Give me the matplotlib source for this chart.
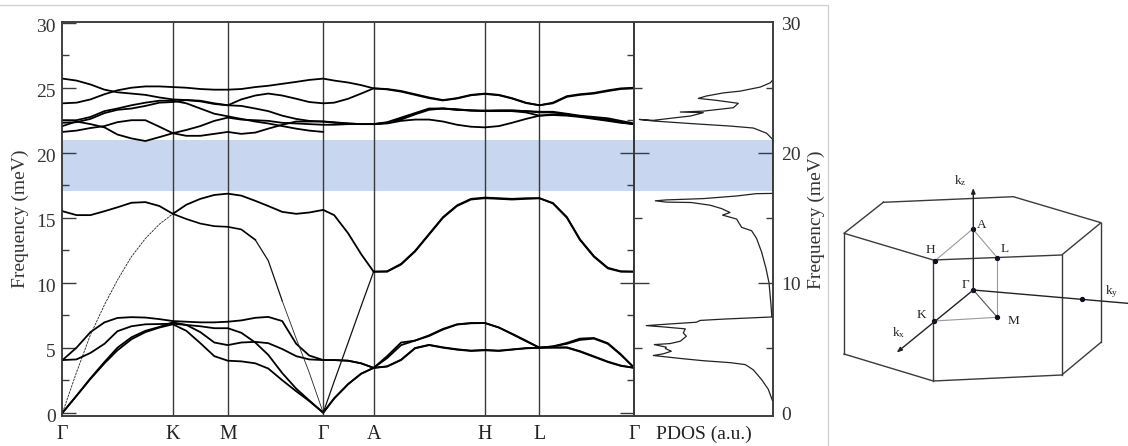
import numpy as np
import matplotlib
matplotlib.use('Agg')
import matplotlib.pyplot as plt
from matplotlib.transforms import ScaledTranslation

plt.rcParams['font.family'] = ['Liberation Serif', 'DejaVu Serif']
plt.rcParams['mathtext.fontset'] = 'custom'
plt.rcParams['mathtext.rm'] = 'Liberation Serif'
plt.rcParams['mathtext.default'] = 'rm'
plt.rcParams['lines.solid_joinstyle'] = 'round'

W, H = 1128, 446

# k path, one list per segment, neighbours share their end node
k_gk = [0, 14, 28, 42, 55, 69, 83, 97, 110.5]
k_km = [110.5, 124, 138, 152, 165.5]
k_mg = [165.5, 179, 193, 206, 220, 234, 247, 261]
k_ga = [261, 272, 286, 299, 311.5]
k_ah = [311.5, 325, 339, 353, 367, 381, 395, 409, 423]
k_hl = [423, 437, 450, 464, 477.5]
k_lg = [477.5, 491, 505, 518, 532, 546, 559, 572.5]

node_k = [0, 110.5, 165.5, 261, 311.5, 423, 477.5, 572.5]
node_names = ['Γ', 'K', 'M', 'Γ', 'A', 'H', 'L', 'Γ']

# acoustic and low optical branches
low1 = [[0, 1.3, 2.6, 3.8, 4.8, 5.65, 6.2, 6.55, 6.8],
        [6.8, 6.3, 5.35, 4.35, 4.0],
        [4.0, 3.95, 3.8, 3.4, 2.5, 1.65, 0.9, 0],
        [0, 1.1, 2.2, 3.0, 3.45],
        [3.45, 3.55, 4.05, 4.95, 5.2, 5.0, 4.85, 4.75, 4.8],
        [4.8, 4.75, 4.85, 4.95, 5.0],
        [5.0, 5.0, 5.0, 4.7, 4.3, 3.9, 3.6, 3.45]]
low2 = [[0, 1.3, 2.65, 3.9, 5.0, 5.8, 6.3, 6.6, 6.95],
        [6.95, 6.75, 6.65, 6.5, 6.5],
        [6.5, 6.15, 5.4, 4.45, 3.05, 1.85, 0.95, 0],
        [0, 1.1, 2.2, 3.0, 3.45],
        [3.45, 3.57, 4.08, 4.98, 5.22, 5.03, 4.88, 4.78, 4.83],
        [4.83, 4.78, 4.87, 4.97, 5.0],
        [5.0, 5.03, 5.03, 4.74, 4.34, 3.93, 3.63, 3.45]]
low3 = [[4.05, 4.1, 4.6, 5.3, 6.27, 6.65, 6.8, 6.82, 6.85],
        [6.85, 6.75, 6.2, 5.4, 5.2],
        [5.2, 5.4, 5.45, 5.35, 4.9, 4.35, 4.1, 4.05],
        [4.05, 4.05, 4.0, 3.8, 3.45],
        [3.45, 4.2, 5.2, 5.55, 5.9, 6.4, 6.78, 6.88, 6.9],
        [6.9, 6.55, 6.05, 5.5, 5.0],
        [5.0, 5.1, 5.3, 5.6, 5.7, 5.3, 4.45, 3.45]]
low4 = [[4.05, 5.0, 6.2, 6.95, 7.29, 7.35, 7.32, 7.2, 7.05],
        [7.05, 7.0, 6.95, 6.95, 7.0],
        [7.0, 7.1, 7.3, 7.37, 7.05, 5.3, 4.4, 4.05],
        [4.05, 4.05, 4.0, 3.8, 3.45],
        [3.45, 4.35, 5.4, 5.55, 5.95, 6.45, 6.8, 6.9, 6.9],
        [6.9, 6.55, 6.08, 5.55, 5.0],
        [5.0, 5.1, 5.37, 5.7, 5.75, 5.35, 4.5, 3.45]]

# middle branches
mid1 = [[0, 3.1, 6.0, 8.3, 10.2, 12, 13.4, 14.5, 15.3],
        [15.3, 14.9, 14.55, 14.35, 14.3],
        [14.3, 14.1, 13.3, 11.7, 8.6, 5.7, 3.1, 0],
        [0, 2.4, 5.4, 8.2, 10.85],
        [10.85, 10.85, 11.4, 12.4, 13.7, 15, 15.9, 16.4, 16.5],
        [16.5, 16.45, 16.4, 16.45, 16.5],
        [16.5, 16.1, 15, 13.3, 12, 11.1, 10.85, 10.85]]
mid2 = [[15.5, 15.2, 15.2, 15.5, 15.8, 16.15, 16.2, 15.9, 15.3],
        [15.3, 16, 16.45, 16.75, 16.85],
        [16.85, 16.7, 16.3, 15.9, 15.45, 15.3, 15.4, 15.6],
        [15.6, 15.2, 13.8, 12.2, 10.85],
        [10.85, 10.88, 11.45, 12.45, 13.75, 15.05, 15.95, 16.45, 16.55],
        [16.55, 16.5, 16.45, 16.5, 16.5],
        [16.5, 16.13, 15.05, 13.35, 12.05, 11.15, 10.88, 10.85]]

# upper branches
high1 = [[25.7, 25.55, 25.25, 24.85, 24.65, 24.55, 24.45, 24.25, 24.1],
         [24.1, 24.05, 23.95, 23.75, 23.65],
         [23.65, 24.1, 24.4, 24.55, 24.4, 24.15, 23.9, 23.8],
         [23.8, 23.85, 24.15, 24.55, 24.95],
         [24.95, 24.9, 24.75, 24.5, 24.25, 24.05, 24.2, 24.45, 24.55],
         [24.55, 24.45, 24.2, 23.85, 23.65],
         [23.65, 23.85, 24.35, 24.5, 24.6, 24.8, 24.95, 25.0]]
high2 = [[23.8, 23.85, 24.1, 24.5, 24.8, 25.0, 25.1, 25.1, 25.05],
         [25.05, 25.0, 24.9, 24.85, 24.85],
         [24.85, 24.9, 25.05, 25.15, 25.3, 25.45, 25.6, 25.7],
         [25.7, 25.55, 25.4, 25.2, 24.95],
         [24.95, 24.87, 24.7, 24.45, 24.2, 24.02, 24.17, 24.42, 24.52],
         [24.52, 24.42, 24.17, 23.82, 23.65],
         [23.65, 23.8, 24.3, 24.45, 24.55, 24.74, 24.9, 24.95]]
high3 = [[22.5, 22.5, 22.75, 23.2, 23.4, 23.65, 23.85, 24.0, 24.0],
         [24.0, 23.8, 23.4, 23.0, 22.8],
         [22.8, 22.6, 22.4, 22.25, 22.05, 21.85, 21.7, 21.6],
         [21.6, np.nan, np.nan, np.nan, 22.2],
         [22.2, 22.3, 22.65, 23.0, 23.35, 23.4, 23.3, 23.25, 23.2],
         [23.2, 23.25, 23.25, 23.2, 23.1],
         [23.1, 23.1, 22.95, 22.8, 22.7, 22.55, 22.35, 22.2]]
high4 = [[22.3, 22.35, 22.6, 23.05, 23.3, 23.4, 23.6, 23.85, 23.9],
         [23.9, 24.05, 24.0, 23.8, 23.65],
         [23.65, 23.6, 23.4, 23.2, 22.85, 22.6, 22.45, 22.4],
         [22.4, 22.35, 22.25, 22.2, 22.2],
         [22.2, 22.35, 22.7, 23.05, 23.4, 23.4, 23.35, 23.25, 23.25],
         [23.25, 23.25, 23.25, 23.2, 23.15],
         [23.15, 23.15, 23.0, 22.85, 22.75, 22.65, 22.45, 22.25]]
high5 = [[22.05, 22.4, 22.2, 21.95, 21.4, 21.1, 20.9, 21.2, 21.5],
         [21.5, 21.3, 21.3, 21.45, 21.6],
         [21.6, 21.45, 21.55, 21.85, 22.15, 22.4, 22.4, 22.4],
         [22.4, 22.3, 22.25, 22.2, 22.2],
         [22.2, 22.3, 22.55, 22.95, 23.3, 23.4, 23.3, 23.25, 23.2],
         [23.2, 23.2, 23.2, 23.1, 22.85],
         [22.85, 22.95, 22.9, 22.8, 22.65, 22.5, 22.35, 22.2]]
high6 = [[21.6, 21.7, 21.9, 22.05, 22.35, 22.5, 22.5, 22.0, 21.5],
         [21.5, 21.75, 22.05, 22.45, 22.7],
         [22.7, 22.55, 22.5, 22.45, 22.3, 22.25, 22.2, 22.15],
         [22.15, 22.15, 22.2, 22.2, 22.2],
         [22.2, 22.25, 22.45, 22.55, 22.55, 22.4, 22.15, 22.0, 21.95],
         [21.95, 22.05, 22.3, 22.6, 22.85],
         [22.85, 22.9, 22.85, 22.75, 22.6, 22.45, 22.3, 22.2]]

# phonon density of states
pdos_freq = [0.9, 1.8, 2.55, 3.3, 3.7, 3.85, 4.0, 4.15, 4.4, 4.53, 4.73, 4.94, 5.04, 5.24,
             5.32, 5.5, 5.88, 6.14, 6.45, 6.6, 6.7, 6.83, 6.96, 7.1, 7.2, 7.37, 7.4, 8.3,
             10, 11.1, 12.36, 13.4, 14, 14.26, 14.9, 15.2, 15.4, 15.7, 15.96, 16.17, 16.2,
             16.3, 16.37, 16.47, 16.67, 16.85, 16.87, 21.03, 21.5, 21.9, 22.05, 22.23,
             22.44, 22.56, 22.49, 22.7, 22.82, 23.08, 23.13, 23.2, 23.46, 23.8, 24.03,
             24.18, 24.36, 24.6, 24.74, 25.05, 25.38, 25.64]
pdos_val = [0.7, 5, 11.7, 20, 28, 43, 70, 90, 120, 110, 102, 108, 107, 119,
            103, 93, 87, 90, 88, 110, 127, 103, 77, 73, 50, 0, 1.5, 2.3,
            4.3, 7.3, 11.7, 16.7, 21.7, 31.7, 36.7, 50.7, 43.3, 51.7, 63, 82, 107,
            118, 107, 70, 37, 17, 0, 0.7, 6.7, 20, 43, 80,
            120, 134, 120, 97, 83, 70, 93, 70, 40, 35, 57,
            75, 67, 50, 33, 13, 3, 0]

gap_low, gap_high = 17.05, 20.95

freq_major = [0, 5, 10, 15, 20, 25, 30]
freq_minor = [2.5, 7.5, 12.5, 17.5, 22.5, 27.5]
sep_major = [0, 10, 20]
pdos_major = [10, 20]
pdos_minor = [5, 15, 25]

# Brillouin zone sketch, in figure pixels
bz_top = [(883.3, 202.3), (1013.3, 196.7), (1101, 222.7), (1061.7, 255), (933.3, 260), (844, 233.3), (883.3, 202.3)]
bz_bottom = [(844, 354), (933.3, 381), (1061.7, 375), (1101, 342.3)]
bz_edges = [((844, 233.3), (844, 354)), ((933.3, 260), (933.3, 381)),
            ((1061.7, 255), (1061.7, 375)), ((1101, 222.7), (1101, 342.3))]
bz_points = {'A': (972.7, 229), 'H': (935, 260.7), 'L': (997.3, 257.7), 'G': (973.3, 290),
             'K': (934, 321), 'M': (997.3, 317.3), 'Y': (1081.7, 299)}
bz_labels = [('A', 982, 225), ('H', 930, 250), ('L', 1005, 249), ('Γ', 965, 285), ('K', 921, 315),
             ('M', 1013, 321), ('k$_{\\mathrm{z}}$', 960, 181), ('k$_{\\mathrm{x}}$', 899, 333),
             ('k$_{\\mathrm{y}}$', 1112, 292)]
kz_end = (973.3, 188)
kx_end = (896.7, 352.5)
ky_end = (1127.7, 303.3)

LINE = '#3a3a3a'
GAP = '#c9d6ef'


def pixel_rect(x0, y0, x1, y1):
    return [x0 / W, 1 - y1 / H, (x1 - x0) / W, (y1 - y0) / H]


def join(segments):
    out = list(segments[0])
    for s in segments[1:]:
        out.extend(s[1:])
    return np.array(out, dtype=float)


k = join([k_gk, k_km, k_mg, k_ga, k_ah, k_hl, k_lg])

fig = plt.figure(figsize=(W / 100, H / 100), dpi=100, facecolor='white')

bg = fig.add_axes([0, 0, 1, 1], zorder=0)
bg.set_xlim(0, W)
bg.set_ylim(H, 0)
bg.axis('off')

ax = fig.add_axes(pixel_rect(62.5, 22.2, 634.3, 415.7), zorder=2)
ax2 = fig.add_axes(pixel_rect(634.3, 22.2, 773.3, 415.7), zorder=2)
y_lim = (-0.23, 30.04)

# band panel
ax.axhspan(gap_low, gap_high, color=GAP, lw=0, zorder=0)
for x in node_k[1:-1]:
    ax.axvline(x, color=LINE, lw=1.0, zorder=1)

for band in [low1, low2, low3, low4, high1, high2, high3, high4, high5, high6]:
    ax.plot(k, join(band), color='black', lw=1.3, zorder=3)

ax.plot(k, join(mid2), color='black', lw=1.3, zorder=3)
mid = join(mid1)
i_k = int(np.searchsorted(k, 110.5))
i_med = int(np.searchsorted(k, 193))
i_thin = int(np.searchsorted(k, 220))
i_g = int(np.searchsorted(k, 261))
i_a = int(np.searchsorted(k, 311.5))
ax.plot(k[:i_k + 1], mid[:i_k + 1], color='#222222', lw=0.6, ls=(0, (3, 1)), zorder=3)
ax.plot(k[i_k:i_med + 1], mid[i_k:i_med + 1], color='black', lw=1.2, zorder=3)
ax.plot(k[i_med:i_thin + 1], mid[i_med:i_thin + 1], color='#111111', lw=0.9, zorder=3)
ax.plot(k[i_thin:i_g + 1], mid[i_thin:i_g + 1], color='#222222', lw=0.6, zorder=3)
ax.plot(k[i_g:i_a + 1], mid[i_g:i_a + 1], color='#111111', lw=0.9, zorder=3)
ax.plot(k[i_a:], mid[i_a:], color='black', lw=1.3, zorder=3)

ax.set_xlim(0, 571.8)
ax.set_ylim(*y_lim)
ax.set_xticks(node_k)
ax.set_xticklabels(node_names, fontsize=14.3, color='#222222')
ax.tick_params(axis='x', length=0, pad=7)
ax.set_yticks(freq_major)
ax.set_yticks(freq_minor, minor=True)
ax.tick_params(axis='y', which='major', direction='in', length=10, width=1, color=LINE,
               labelsize=14, labelcolor='#333333', pad=5)
ax.tick_params(axis='y', which='minor', direction='in', length=5, width=1, color=LINE)
# the numbers sit a little below their ticks in the original
label_shift = ScaledTranslation(0, -2.5 / 100, fig.dpi_scale_trans)
for lab in ax.get_yticklabels():
    lab.set_transform(lab.get_transform() + label_shift)

sep = ax.twinx()
sep.set_ylim(*y_lim)
sep.set_yticks(sep_major)
sep.set_yticks(freq_minor, minor=True)
sep.set_yticklabels([])
sep.tick_params(axis='y', which='major', direction='in', length=10, width=1, color=LINE)
sep.tick_params(axis='y', which='minor', direction='in', length=5, width=1, color=LINE)

# pdos panel
ax2.axhspan(gap_low, gap_high, color=GAP, lw=0, zorder=0)
ax2.plot(pdos_val, pdos_freq, color='#222222', lw=0.9, zorder=3)
ax2.set_xlim(139, 0)
ax2.set_ylim(*y_lim)
ax2.set_xticks([69.5])
ax2.set_xticklabels(['PDOS (a.u.)'], fontsize=14, color='#222222')
ax2.tick_params(axis='x', length=0, pad=7)
ax2.set_yticks(pdos_major)
ax2.set_yticks(pdos_minor, minor=True)
ax2.set_yticklabels([])
ax2.tick_params(axis='y', which='major', direction='in', length=11, width=1, color=LINE)
ax2.tick_params(axis='y', which='minor', direction='in', length=6, width=1, color=LINE)

right = ax2.twinx()
right.set_ylim(*y_lim)
right.set_yticks(pdos_major)
right.set_yticks(pdos_minor, minor=True)
right.set_yticklabels([])
right.tick_params(axis='y', which='major', direction='in', length=11, width=1, color=LINE)
right.tick_params(axis='y', which='minor', direction='in', length=5, width=1, color=LINE)

for a in [ax, ax2, sep, right]:
    for s in a.spines.values():
        s.set_color(LINE)
        s.set_linewidth(1.1)

# labels on the right side of the pdos panel
for v in freq_major[::2]:
    fig_y = 412.7 - v * 13
    bg.text(781.5, fig_y + 2.5, str(v), fontsize=14, color='#333333', va='center', ha='left')
bg.text(20, 219, 'Frequency (meV)', fontsize=14, color='#333333', rotation=90, va='center', ha='center')
bg.text(816, 220, 'Frequency (meV)', fontsize=14, color='#333333', rotation=90, va='center', ha='center')

# light frame round the graph
bg.plot([0, 827.5, 827.5], [4.5, 4.5, H], color='#cfcfcf', lw=0.9)

# Brillouin zone
tx, ty = zip(*bz_top)
bg.plot(tx, ty, color=LINE, lw=1.0)
bx, by = zip(*bz_bottom)
bg.plot(bx, by, color=LINE, lw=1.0)
for p, q in bz_edges:
    bg.plot([p[0], q[0]], [p[1], q[1]], color=LINE, lw=1.0)
for a_, b_ in [('A', 'H'), ('A', 'L'), ('L', 'M'), ('K', 'M')]:
    p, q = bz_points[a_], bz_points[b_]
    bg.plot([p[0], q[0]], [p[1], q[1]], color='#999999', lw=0.8)
p, q = bz_points['G'], bz_points['M']
bg.plot([p[0], q[0]], [p[1], q[1]], color='#555555', lw=0.8)
for end in [kz_end, kx_end]:
    bg.annotate('', xy=end, xytext=bz_points['G'],
                arrowprops=dict(arrowstyle='-|>,head_length=0.3,head_width=0.12', color='#222222',
                                lw=1.0, shrinkA=0, shrinkB=0))
bg.plot([bz_points['G'][0], ky_end[0]], [bz_points['G'][1], ky_end[1]], color='#222222', lw=1.0)
for name in bz_points:
    bg.plot(*bz_points[name], 'o', color='#0b1020', ms=2.8)
for text, x, y in bz_labels:
    bg.text(x, y, text, fontsize=9.5, color='#222222', ha='center', va='center')

fig.savefig('out.png', dpi=100)
